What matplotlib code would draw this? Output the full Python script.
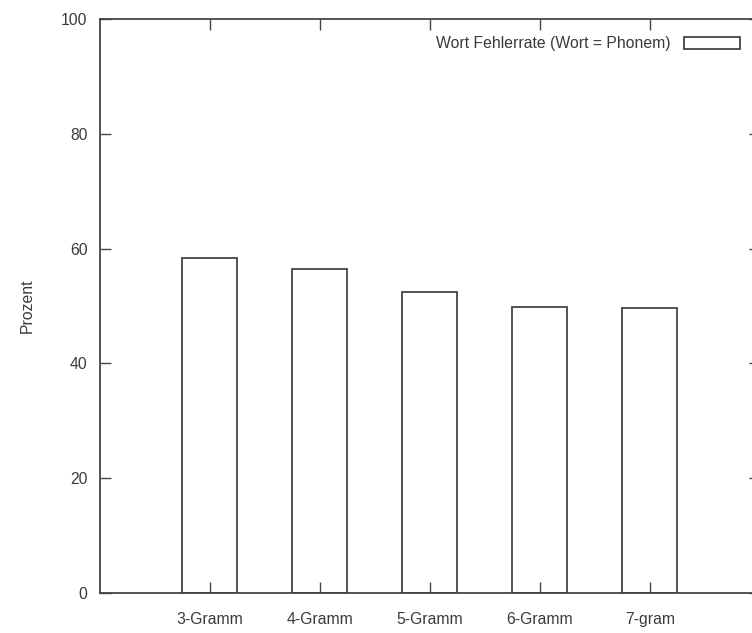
import matplotlib.pyplot as plt
from matplotlib.patches import Rectangle

# n-gram word error rates
kategorien = ['3-Gramm', '4-Gramm', '5-Gramm', '6-Gramm', '7-gram']
fehlerrate = [58.3, 56.4, 52.5, 49.9, 49.7]
legende = 'Wort Fehlerrate (Wort = Phonem)'

plt.rcParams['font.family'] = ['Liberation Sans', 'DejaVu Sans']
linie = '#444444'
schrift = '#3a3a3a'
groesse = 11.3

fig = plt.figure(figsize=(7.52, 6.33), dpi=100)
ax = fig.add_axes([100 / 752, 1 - 593 / 633, 660 / 752, 574 / 633])

x = list(range(len(kategorien)))
ax.bar(x, fehlerrate, width=0.5, facecolor='white', edgecolor=linie, linewidth=1.3)

ax.set_xlim(-1, 5)
ax.set_ylim(0, 100)
ax.set_xticks(x)
ax.set_xticklabels(kategorien)
ax.set_yticks([0, 20, 40, 60, 80, 100])

ax.tick_params(direction='in', length=8, width=1.0, color=linie,
               labelcolor=schrift, labelsize=groesse, top=True, right=True)
ax.tick_params(axis='x', pad=14)
ax.tick_params(axis='y', pad=9)
for s in ax.spines.values():
    s.set_color(linie)
    s.set_linewidth(1.3)

ax.set_ylabel('Prozent', color=schrift, fontsize=groesse, labelpad=19)

# legend entry in the upper right corner
ax.text(0.865, 0.957, legende, transform=ax.transAxes, ha='right', va='center',
        fontsize=groesse, color=schrift)
ax.add_patch(Rectangle((0.885, 0.947), 0.085, 0.021, transform=ax.transAxes,
                       facecolor='white', edgecolor=linie, linewidth=1.3,
                       clip_on=False))

fig.savefig('out.png', dpi=100)
